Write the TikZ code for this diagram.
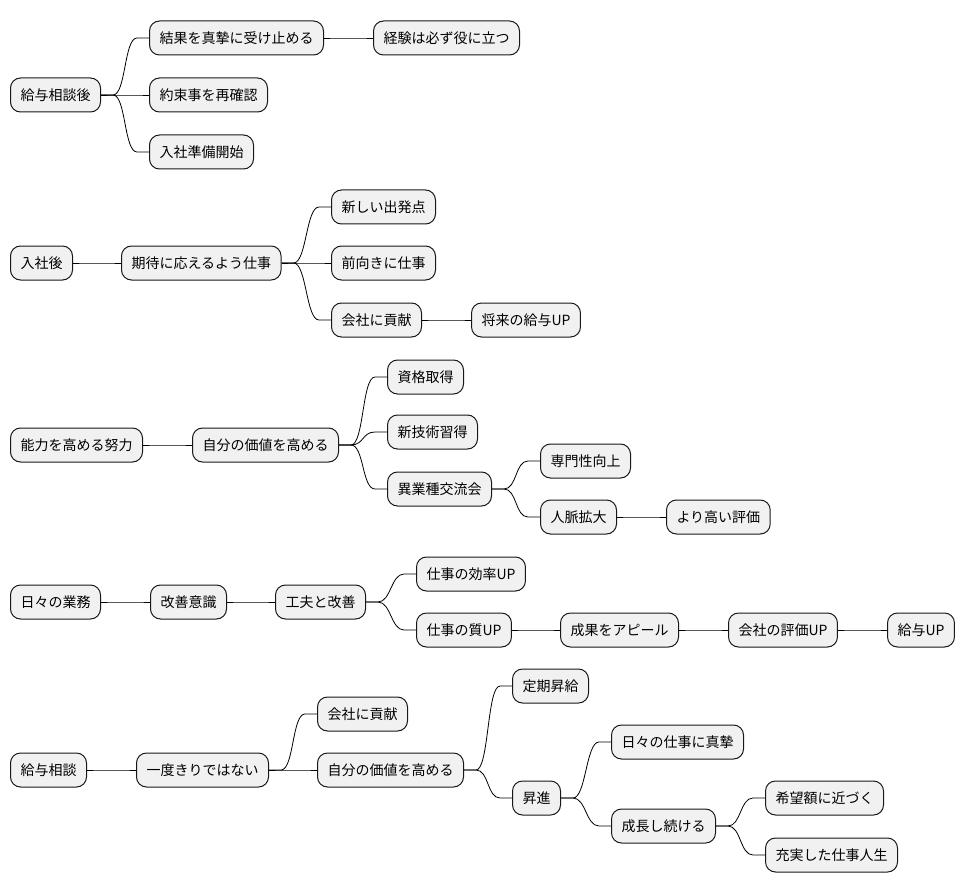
\documentclass[tikz,border=0pt]{standalone}
\usepackage{fontspec}
\setmainfont{Noto Sans CJK JP}
\usepackage{tikz}
\definecolor{nodefill}{HTML}{F1F1F1}
\definecolor{nodeline}{HTML}{181818}
\tikzset{
  idea/.style={draw=nodeline, fill=nodefill, line width=1pt,
    rounded corners=10pt, anchor=west, inner xsep=10pt, inner ysep=0pt,
    minimum height=34pt, font=\fontsize{14}{16}\selectfont},
  branch/.style={to path={-- ++(12pt,0)
    .. controls +(13pt,0) and +(-13pt,0) .. ([xshift=-12pt]\tikztotarget)
    -- (\tikztotarget)}}
}
\begin{document}
\begin{tikzpicture}[x=1pt,y=-1pt,line width=0.8pt]
  \useasboundingbox
    (0,0)
    rectangle
    (965,893);
  % after the talk
  \node[idea] (a1) at (10,95) {給与相談後};
  \node[idea] (a2) at (149,38) {結果を真摯に受け止める};
  \node[idea] (a3) at (373,38) {経験は必ず役に立つ};
  \node[idea] (a4) at (149,95) {約束事を再確認};
  \node[idea] (a5) at (149,152) {入社準備開始};
  \draw (a1.east) to[branch] (a2.west);
  \draw (a2.east) to[branch] (a3.west);
  \draw (a1.east) to[branch] (a4.west);
  \draw (a1.east) to[branch] (a5.west);
  % after joining
  \node[idea] (b1) at (10,263) {入社後};
  \node[idea] (b2) at (121,263) {期待に応えるよう仕事};
  \node[idea] (b3) at (331,207) {新しい出発点};
  \node[idea] (b4) at (331,263) {前向きに仕事};
  \node[idea] (b5) at (331,320) {会社に貢献};
  \node[idea] (b6) at (471,320) {将来の給与UP};
  \draw (b1.east) to[branch] (b2.west);
  \draw (b2.east) to[branch] (b3.west);
  \draw (b2.east) to[branch] (b4.west);
  \draw (b2.east) to[branch] (b5.west);
  \draw (b5.east) to[branch] (b6.west);
  % skills
  \node[idea] (c1) at (10,445) {能力を高める努力};
  \node[idea] (c2) at (192,445) {自分の価値を高める};
  \node[idea] (c3) at (387,377) {資格取得};
  \node[idea] (c4) at (387,432) {新技術習得};
  \node[idea] (c5) at (387,489) {異業種交流会};
  \node[idea] (c6) at (540,461) {専門性向上};
  \node[idea] (c7) at (540,517) {人脈拡大};
  \node[idea] (c8) at (666,517) {より高い評価};
  \draw (c1.east) to[branch] (c2.west);
  \draw (c2.east) to[branch] (c3.west);
  \draw (c2.east) to[branch] (c4.west);
  \draw (c2.east) to[branch] (c5.west);
  \draw (c5.east) to[branch] (c6.west);
  \draw (c5.east) to[branch] (c7.west);
  \draw (c7.east) to[branch] (c8.west);
  % daily work
  \node[idea] (d1) at (10,602) {日々の業務};
  \node[idea] (d2) at (150,602) {改善意識};
  \node[idea] (d3) at (275,602) {工夫と改善};
  \node[idea] (d4) at (416,574) {仕事の効率UP};
  \node[idea] (d5) at (416,630) {仕事の質UP};
  \node[idea] (d6) at (560,630) {成果をアピール};
  \node[idea] (d7) at (728,630) {会社の評価UP};
  \node[idea] (d8) at (887,630) {給与UP};
  \draw (d1.east) to[branch] (d2.west);
  \draw (d2.east) to[branch] (d3.west);
  \draw (d3.east) to[branch] (d4.west);
  \draw (d3.east) to[branch] (d5.west);
  \draw (d5.east) to[branch] (d6.west);
  \draw (d6.east) to[branch] (d7.west);
  \draw (d7.east) to[branch] (d8.west);
  % the talk
  \node[idea] (e1) at (10,770) {給与相談};
  \node[idea] (e2) at (136,770) {一度きりではない};
  \node[idea] (e3) at (317,714) {会社に貢献};
  \node[idea] (e4) at (317,770) {自分の価値を高める};
  \node[idea] (e5) at (512,686) {定期昇給};
  \node[idea] (e6) at (512,798) {昇進};
  \node[idea] (e7) at (611,742) {日々の仕事に真摯};
  \node[idea] (e8) at (611,826) {成長し続ける};
  \node[idea] (e9) at (765,798) {希望額に近づく};
  \node[idea] (e10) at (765,855) {充実した仕事人生};
  \draw (e1.east) to[branch] (e2.west);
  \draw (e2.east) to[branch] (e3.west);
  \draw (e2.east) to[branch] (e4.west);
  \draw (e4.east) to[branch] (e5.west);
  \draw (e4.east) to[branch] (e6.west);
  \draw (e6.east) to[branch] (e7.west);
  \draw (e6.east) to[branch] (e8.west);
  \draw (e8.east) to[branch] (e9.west);
  \draw (e8.east) to[branch] (e10.west);
\end{tikzpicture}
\end{document}
